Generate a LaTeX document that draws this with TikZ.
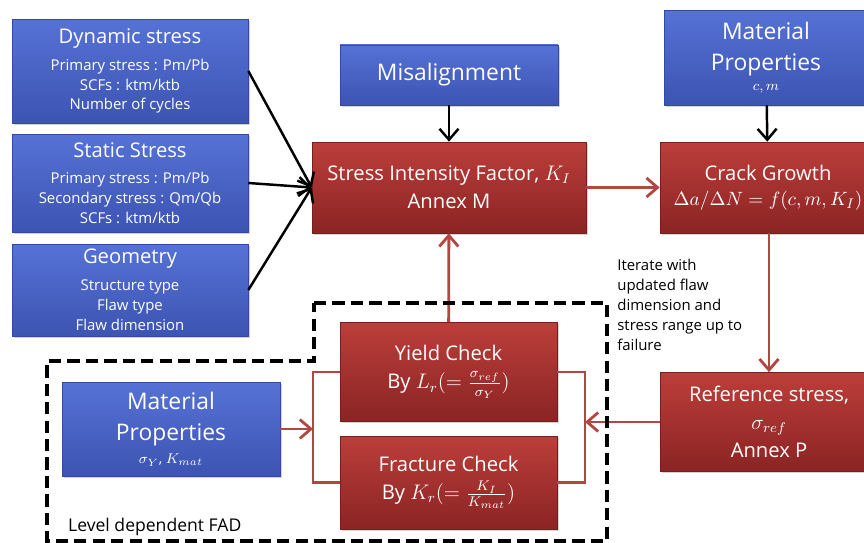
\documentclass[tikz,border=0pt]{standalone}
\usepackage{amsmath}
\usepackage{fontspec}
\setmainfont{Open Sans}
\usetikzlibrary{arrows.meta,shadows}
\usepackage{xcolor}

\definecolor{bluetop}{RGB}{86,114,214}
\definecolor{bluebot}{RGB}{60,84,178}
\definecolor{blueedge}{RGB}{52,74,160}
\definecolor{redtop}{RGB}{188,62,58}
\definecolor{redbot}{RGB}{138,36,36}
\definecolor{rededge}{RGB}{120,30,30}
\definecolor{redline}{RGB}{178,70,66}

\newcommand{\bigfont}{\fontsize{13}{18}\selectfont}
\newcommand{\midfont}{\fontsize{11.5}{16}\selectfont}
\newcommand{\subfont}{\fontsize{8.5}{11.3}\selectfont}
\newcommand{\tinyfont}{\fontsize{8}{10}\selectfont}

\begin{document}
\begin{tikzpicture}[x=0.02cm, y=-0.02cm,
    bluebox/.style={draw=blueedge, line width=0.4pt, top color=bluetop, bottom color=bluebot,
        text=white, align=center, inner sep=0pt,
        drop shadow={opacity=0.35, shadow xshift=1pt, shadow yshift=-1pt}},
    redbox/.style={draw=rededge, line width=0.4pt, top color=redtop, bottom color=redbot,
        text=white, align=center, inner sep=0pt, font=\midfont,
        drop shadow={opacity=0.35, shadow xshift=1pt, shadow yshift=-1pt}},
    blkarrow/.style={line width=1.4pt, -{Straight Barb[length=2.2mm,width=3.8mm]}},
    redarrow/.style={draw=redline, line width=1.6pt, -{Straight Barb[length=2.2mm,width=3.8mm]}},
    redlink/.style={draw=redline, line width=1.6pt},
    fadline/.style={line width=2.3pt, dash pattern=on 7pt off 3.5pt}]

    \useasboundingbox (0,0) rectangle (864,543);

    % Input boxes on the left
    \node[bluebox, font=\subfont, minimum width=4.72cm, minimum height=2.08cm] (dyn) at (130,71)
        {{\midfont Dynamic stress}\\[4pt]Primary stress : Pm/Pb\\SCFs : ktm/ktb\\Number of cycles};
    \node[bluebox, font=\subfont, minimum width=4.72cm, minimum height=1.96cm] (stat) at (130,183)
        {{\midfont Static Stress}\\[4pt]Primary stress : Pm/Pb\\Secondary stress : Qm/Qb\\SCFs : ktm/ktb};
    \node[bluebox, font=\subfont, minimum width=4.72cm, minimum height=1.84cm] (geom) at (130,290)
        {{\midfont Geometry}\\[4pt]Structure type\\Flaw type\\Flaw dimension};

    % Misalignment and stress intensity factor
    \node[bluebox, font=\bigfont, minimum width=4.36cm, minimum height=1.2cm] (misal) at (449,75) {Misalignment};
    \node[redbox, minimum width=5.48cm, minimum height=1.82cm] (sif) at (449,187.5)
        {Stress Intensity Factor, $K_I$\\Annex M};

    % Crack growth column
    \node[bluebox, font=\bigfont, minimum width=4.08cm, minimum height=1.9cm] (matA) at (766,57.5)
        {Material\\Properties\\[-7pt]{\tinyfont $c,m$}};
    \node[redbox, minimum width=4.32cm, minimum height=1.82cm] (crack) at (768,187.5)
        {Crack Growth\\[-2pt]{\fontsize{10.8}{14}\selectfont $\Delta a/\Delta N = f(c,m,K_I)$}};
    \node[redbox, minimum width=4.36cm, minimum height=1.98cm] (ref) at (769,422)
        {Reference stress,\\$\sigma_{ref}$\\Annex P};

    % FAD checks
    \node[redbox, minimum width=4.34cm, minimum height=1.98cm] (yield) at (448.5,372)
        {Yield Check\\By $L_r(=\frac{\sigma_{ref}}{\sigma_Y})$};
    \node[redbox, minimum width=4.34cm, minimum height=1.86cm] (frac) at (448.5,482.5)
        {Fracture Check\\By $K_r(=\frac{K_I}{K_{mat}})$};
    \node[bluebox, font=\bigfont, minimum width=4.36cm, minimum height=1.88cm] (matB) at (171,429)
        {Material\\Properties\\[-5pt]{\tinyfont $\sigma_Y$, $K_{mat}$}};

    % Black inputs
    \draw[blkarrow] (dyn.east) -- (sif.west);
    \draw[blkarrow] (stat.east) -- (sif.west);
    \draw[blkarrow] (geom.east) -- (sif.west);
    \draw[blkarrow] (misal) -- (sif);
    \draw[blkarrow] (matA) -- (crack);

    % Red loop
    \draw[redarrow] (sif) -- (crack);
    \draw[redarrow] (crack.south -| ref.north) -- (ref.north);
    \draw[redarrow] (yield) -- (sif);
    \coordinate (rbr) at (585,422);
    \coordinate (lbr) at (313,429);
    \draw[redlink] (yield.east) -| (rbr) |- (frac.east);
    \draw[redlink] (yield.west) -| (lbr) |- (frac.west);
    \draw[redarrow] (ref.west) -- (ref.west -| rbr);
    \draw[redarrow] (matB.east) -- (lbr);

    % Level dependent FAD region
    \draw[fadline] (314,303) -- (607,303) -- (607,541) -- (47,541) -- (47,361) -- (314,361) -- cycle;
    \node[anchor=west, font=\fontsize{10}{12}\selectfont] (fadlbl) at (62,527) {Level dependent FAD};

    % Iteration note
    \node[anchor=north west, align=left, font=\subfont, inner sep=0pt] (note) at (617,259)
        {Iterate with\\updated flaw\\dimension and\\stress range up to\\failure};
\end{tikzpicture}
\end{document}
